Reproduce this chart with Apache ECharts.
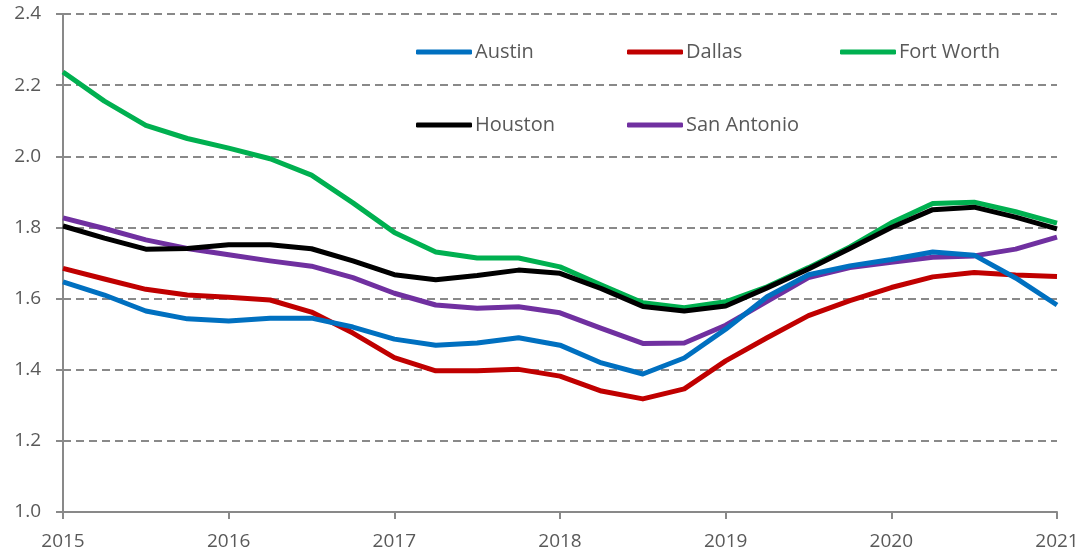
<!DOCTYPE html>
<html>
<head>
<meta charset="utf-8">
<script src="https://cdn.jsdelivr.net/npm/echarts@6/dist/echarts.min.js"></script>
<style>
  html, body { margin: 0; padding: 0; background: #fff; }
  #chart { width: 1087px; height: 557px; }
</style>
</head>
<body>
<div id="chart"></div>
<script>
// Quarterly periods, 2015 Q1 through 2021 Q1
const quarters = [
  '2015Q1','2015Q2','2015Q3','2015Q4',
  '2016Q1','2016Q2','2016Q3','2016Q4',
  '2017Q1','2017Q2','2017Q3','2017Q4',
  '2018Q1','2018Q2','2018Q3','2018Q4',
  '2019Q1','2019Q2','2019Q3','2019Q4',
  '2020Q1','2020Q2','2020Q3','2020Q4',
  '2021Q1'
];

const austin = [1.647, 1.610, 1.565, 1.543, 1.537, 1.545, 1.545, 1.520, 1.486,
  1.469, 1.475, 1.490, 1.469, 1.419, 1.388, 1.433, 1.514, 1.605, 1.667, 1.692,
  1.710, 1.731, 1.722, 1.658, 1.582];
const dallas = [1.685, 1.655, 1.626, 1.610, 1.604, 1.596, 1.562, 1.503, 1.434,
  1.397, 1.397, 1.401, 1.382, 1.340, 1.318, 1.346, 1.425, 1.490, 1.552, 1.594,
  1.631, 1.661, 1.673, 1.666, 1.662];
const fortWorth = [2.237, 2.155, 2.087, 2.050, 2.023, 1.993, 1.947, 1.869, 1.786,
  1.731, 1.714, 1.714, 1.689, 1.638, 1.588, 1.574, 1.591, 1.633, 1.687, 1.745,
  1.813, 1.867, 1.871, 1.844, 1.812];
const houston = [1.804, 1.770, 1.739, 1.741, 1.751, 1.751, 1.740, 1.706, 1.667,
  1.653, 1.665, 1.680, 1.671, 1.628, 1.578, 1.565, 1.579, 1.630, 1.683, 1.741,
  1.800, 1.850, 1.857, 1.829, 1.796];
const sanAntonio = [1.827, 1.797, 1.765, 1.741, 1.723, 1.706, 1.691, 1.659, 1.615,
  1.582, 1.573, 1.577, 1.560, 1.516, 1.474, 1.475, 1.525, 1.592, 1.659, 1.687,
  1.702, 1.716, 1.720, 1.739, 1.773];

const seriesDefs = [
  { name: 'Austin', data: austin, color: '#0070C0' },
  { name: 'Dallas', data: dallas, color: '#C00000' },
  { name: 'Fort Worth', data: fortWorth, color: '#00B050' },
  { name: 'Houston', data: houston, color: '#000000' },
  { name: 'San Antonio', data: sanAntonio, color: '#7030A0' }
];

// Draw order: later series sit on top
const drawOrder = ['Fort Worth', 'San Antonio', 'Dallas', 'Austin', 'Houston'];

const textColor = '#595959';
const axisColor = '#898989';
const fontFamily = '"Open Sans", "Noto Sans", sans-serif';

// Legend slots (two rows of up to three entries)
const legendSlots = [
  { name: 'Austin', left: 416, top: 42 },
  { name: 'Dallas', left: 627, top: 42 },
  { name: 'Fort Worth', left: 840, top: 42 },
  { name: 'Houston', left: 416, top: 115 },
  { name: 'San Antonio', left: 627, top: 115 }
];

const chart = echarts.init(document.getElementById('chart'), null, { renderer: 'canvas' });

chart.setOption({
  backgroundColor: '#ffffff',
  animation: false,
  textStyle: { fontFamily: fontFamily },
  grid: { left: 63, right: 30, top: 14, bottom: 45, containLabel: false },
  legend: legendSlots.map(s => ({
    data: [s.name],
    left: s.left,
    top: s.top,
    icon: 'roundRect',
    itemWidth: 56,
    itemHeight: 5,
    itemGap: 0,
    padding: 0,
    selectedMode: false,
    textStyle: { color: textColor, fontSize: 20, fontFamily: fontFamily, padding: [0, 0, 0, -2] }
  })),
  xAxis: {
    type: 'category',
    data: quarters,
    boundaryGap: false,
    axisLine: { lineStyle: { color: axisColor, width: 2 } },
    axisTick: {
      show: true,
      interval: 3,
      length: 7,
      lineStyle: { color: axisColor, width: 2 }
    },
    axisLabel: {
      interval: 3,
      color: textColor,
      fontSize: 19,
      margin: 20,
      formatter: v => v.slice(0, 4)
    },
    splitLine: { show: false }
  },
  yAxis: {
    type: 'value',
    min: 1.0,
    max: 2.4,
    interval: 0.2,
    axisLine: { show: true, lineStyle: { color: axisColor, width: 2 } },
    axisTick: { show: true, length: 7, lineStyle: { color: axisColor, width: 2 } },
    axisLabel: {
      color: textColor,
      fontSize: 19,
      margin: 22,
      formatter: v => v.toFixed(1)
    },
    splitLine: {
      show: true,
      lineStyle: { color: axisColor, width: 2, type: [8, 5] }
    }
  },
  series: drawOrder.map((name, idx) => {
    const d = seriesDefs.find(s => s.name === name);
    return {
      name: d.name,
      type: 'line',
      data: d.data,
      symbol: 'none',
      smooth: false,
      z: 2 + idx,
      color: d.color,
      lineStyle: { color: d.color, width: 5, join: 'round' }
    };
  })
});
</script>
</body>
</html>
